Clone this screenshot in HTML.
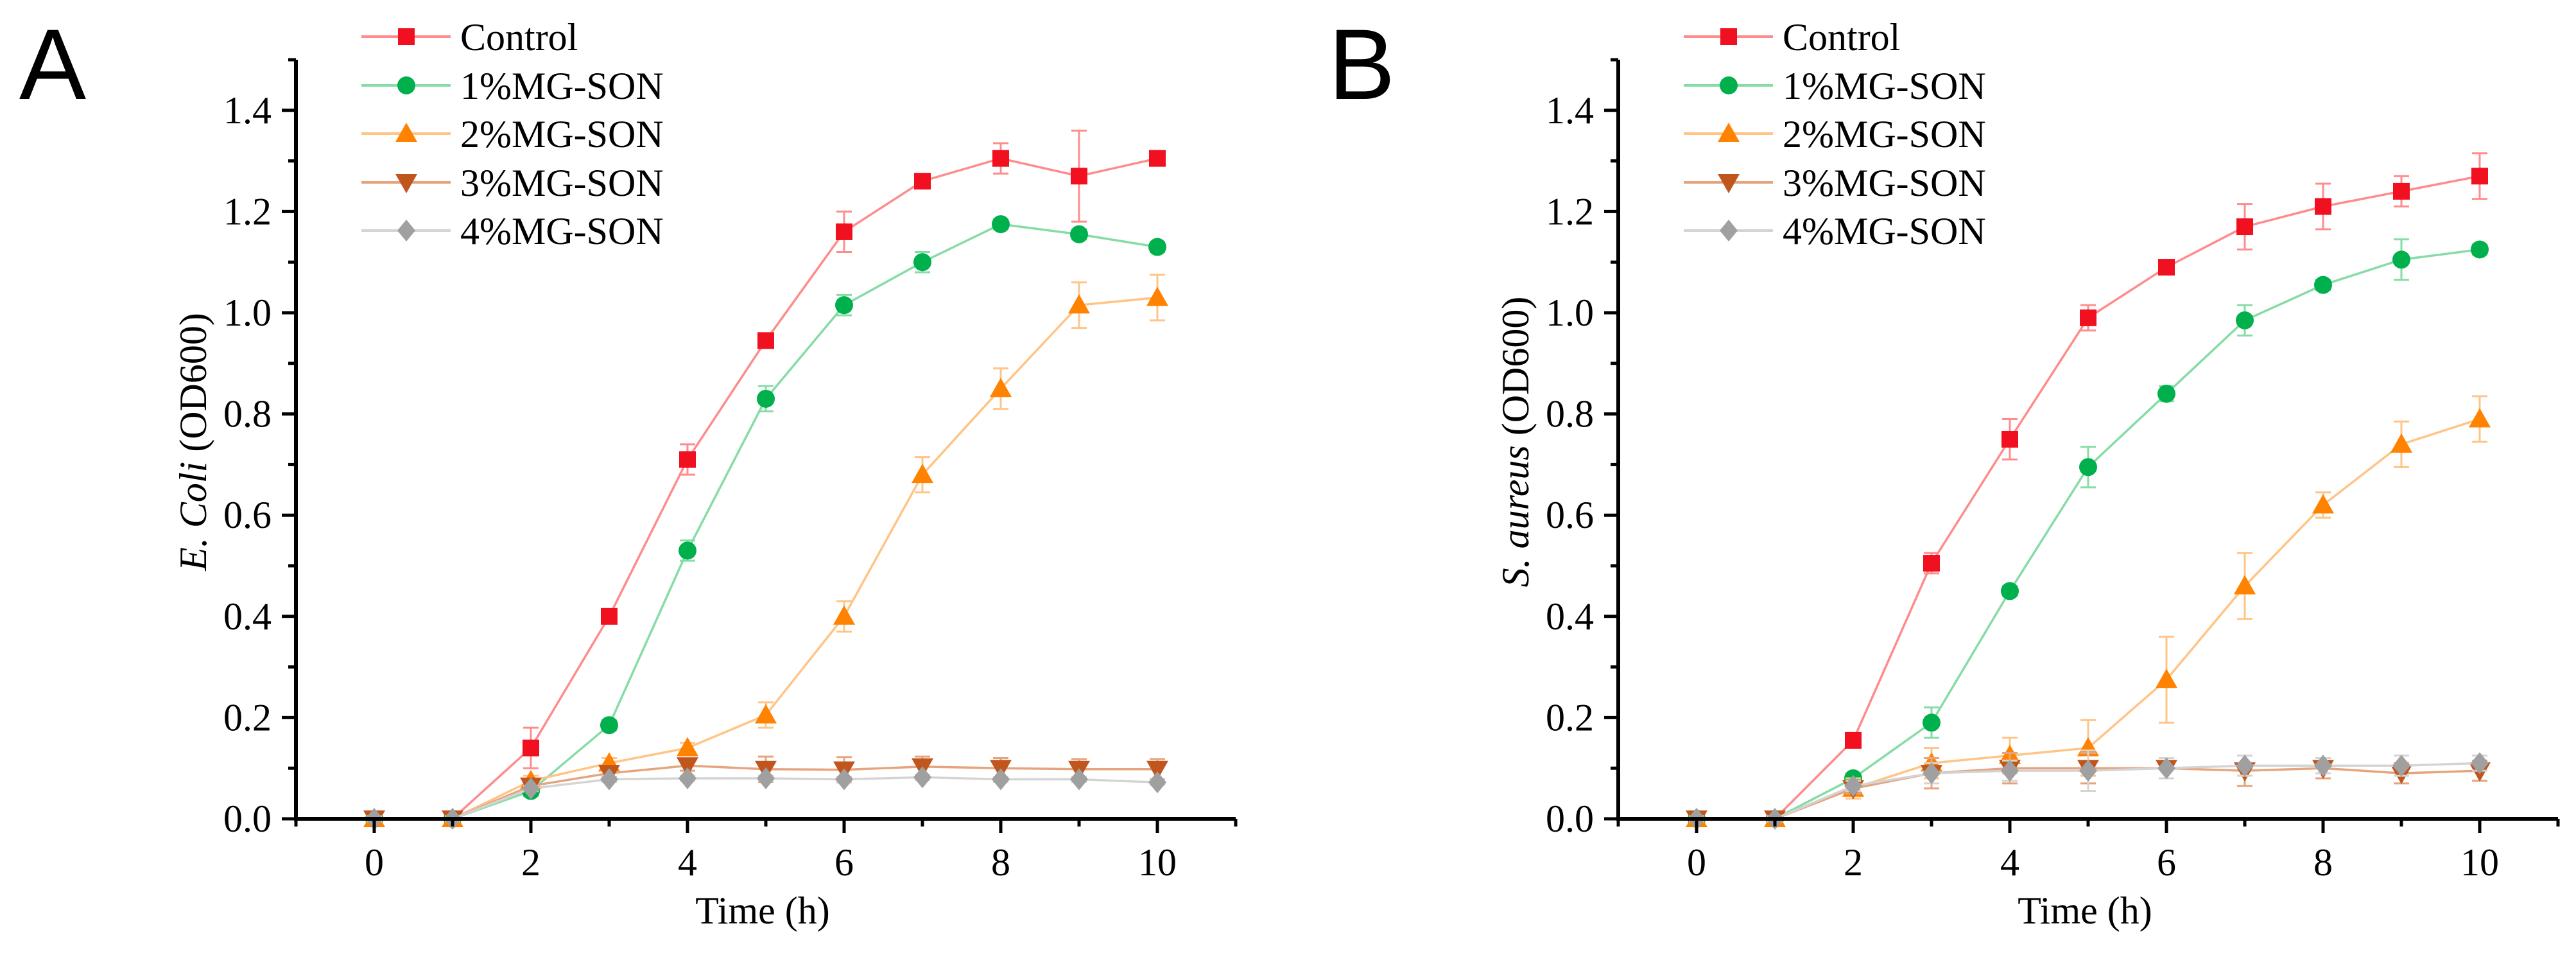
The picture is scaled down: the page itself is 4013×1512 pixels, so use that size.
<!DOCTYPE html>
<html><head><meta charset="utf-8"><style>
html,body{margin:0;padding:0;background:#fff;}
svg{display:block;font-family:"Liberation Serif",serif;}
</style></head><body>
<svg id="fig" width="4013" height="1512" viewBox="0 0 4013 1512" xmlns="http://www.w3.org/2000/svg"></svg>
<script>
const xs = [0,1,2,3,4,5,6,7,8,9,10];
const seriesNames = ["Control","1%MG-SON","2%MG-SON","3%MG-SON","4%MG-SON"];
const yTicks = [0,0.2,0.4,0.6,0.8,1.0,1.2,1.4];
const xTicks = [0,2,4,6,8,10];
// Panel A (E. coli)
const aControl = [0,0,0.14,0.40,0.71,0.945,1.16,1.26,1.305,1.27,1.305];
const aControlErr = [0.005,0.005,0.04,0.01,0.03,0.01,0.04,0.01,0.03,0.09,0.01];
const a1 = [0,0,0.055,0.185,0.53,0.83,1.015,1.10,1.175,1.155,1.13];
const a1Err = [0.005,0.005,0.01,0.01,0.02,0.025,0.02,0.02,0.01,0.01,0.01];
const a2 = [0,0,0.075,0.11,0.14,0.205,0.40,0.68,0.85,1.015,1.03];
const a2Err = [0.005,0.005,0.01,0.01,0.01,0.025,0.03,0.035,0.04,0.045,0.045];
const a3 = [0,0,0.065,0.09,0.105,0.098,0.097,0.103,0.10,0.098,0.098];
const a3Err = [0.005,0.005,0.01,0.01,0.01,0.025,0.025,0.02,0.02,0.02,0.02];
const a4 = [0,0,0.06,0.078,0.08,0.08,0.078,0.082,0.078,0.078,0.072];
const a4Err = [0.005,0.005,0.005,0.005,0.005,0.005,0.005,0.005,0.005,0.005,0.005];
// Panel B (S. aureus)
const bControl = [0,0,0.155,0.505,0.75,0.99,1.09,1.17,1.21,1.24,1.27];
const bControlErr = [0.005,0.005,0.01,0.02,0.04,0.025,0.01,0.045,0.045,0.03,0.045];
const b1 = [0,0,0.08,0.19,0.45,0.695,0.84,0.985,1.055,1.105,1.125];
const b1Err = [0.005,0.005,0.01,0.03,0.01,0.04,0.015,0.03,0.01,0.04,0.01];
const b2 = [0,0,0.06,0.11,0.125,0.14,0.275,0.46,0.62,0.74,0.79];
const b2Err = [0.005,0.005,0.02,0.03,0.035,0.055,0.085,0.065,0.025,0.045,0.045];
const b3 = [0,0,0.06,0.09,0.10,0.10,0.10,0.095,0.10,0.09,0.095];
const b3Err = [0.005,0.005,0.01,0.03,0.03,0.03,0.02,0.03,0.02,0.02,0.02];
const b4 = [0,0,0.065,0.09,0.095,0.095,0.10,0.105,0.105,0.105,0.11];
const b4Err = [0.005,0.005,0.01,0.02,0.02,0.04,0.02,0.02,0.015,0.02,0.015];

const NS="http://www.w3.org/2000/svg";
const svg=document.getElementById('fig');
function mk(tag,attrs,parent){const e=document.createElementNS(NS,tag);for(const k in attrs)e.setAttribute(k,attrs[k]);(parent||svg).appendChild(e);return e;}
const markerCol=["#f01020","#00b04c","#ff8200","#c0561e","#a0a0a0"];
const lineCol=["#ff8c8c","#86dca6","#ffc486","#e6a47e","#d4d4d4"];
const shapes=["square","circle","up","down","diamond"];

function marker(g,shape,cx,cy,col){
  let e;
  if(shape==="square"){e=mk('rect',{x:cx-13,y:cy-13,width:26,height:26,fill:col},g);}
  else if(shape==="circle"){e=mk('circle',{cx:cx,cy:cy,r:14,fill:col},g);}
  else if(shape==="up"){e=mk('polygon',{points:`${cx},${cy-17} ${cx+17},${cy+13} ${cx-17},${cy+13}`,fill:col},g);}
  else if(shape==="down"){e=mk('polygon',{points:`${cx},${cy+17} ${cx+17},${cy-13} ${cx-17},${cy-13}`,fill:col},g);}
  else {e=mk('polygon',{points:`${cx},${cy-17} ${cx+14},${cy} ${cx},${cy+17} ${cx-14},${cy}`,fill:col},g);}
  return e;
}

function panel(off,letter,ylabelItalic,data,errs){
  const X0=583+off, UX=122, Y0=1275, UY=788;
  const sx=v=>X0+v*UX, sy=v=>Y0-v*UY;
  const left=sx(-1), right=sx(11), top=sy(1.5);
  const g=mk('g',{});
  
  
  const L=mk('text',{x:30+off*0.99,y:154,'font-size':156,'font-family':'Liberation Sans, sans-serif',fill:'#000'},g);
  L.textContent=letter;
  
  
  for(let s=0;s<5;s++){
    const sg=mk('g',{},g);
    
    
    const vals=data[s], er=errs[s];
    const pts=xs.map((x,i)=>sx(x)+','+sy(vals[i])).join(' ');
    const pl=mk('polyline',{points:pts,fill:'none',stroke:lineCol[s],'stroke-width':3.5},sg);
    
    
    xs.forEach((x,i)=>{
      const cx=sx(x), y1=sy(vals[i]+er[i]), y2=sy(vals[i]-er[i]);
      const eb=mk('path',{d:`M${cx},${y1}V${y2}M${cx-12},${y1}H${cx+12}M${cx-12},${y2}H${cx+12}`,stroke:lineCol[s],'stroke-width':3,fill:'none'},sg);
      
      
    });
    xs.forEach((x,i)=>{
      const m=marker(sg,shapes[s],sx(x),sy(vals[i]),markerCol[s]);
      
      
    });
  }
  const ax=mk('path',{d:`M${left},${top}V${Y0}H${right}`,stroke:'#000','stroke-width':6,fill:'none'},g);
  
  
  for(let k=0;k<=15;k++){
    const v=k/10, y=sy(v), major=(k%2===0);
    const t=mk('line',{x1:left-(major?22:12),x2:left,y1:y,y2:y,stroke:'#000','stroke-width':5},g);
    
    
  }
  yTicks.forEach(v=>{
    const t=mk('text',{x:left-38,y:sy(v)+20,'font-size':60,'text-anchor':'end',fill:'#000'},g);
    t.textContent=v.toFixed(1);
    
    
  });
  for(let k=-1;k<=11;k++){
    const x=sx(k), major=(k>=0&&k<=10&&k%2===0);
    const t=mk('line',{x1:x,x2:x,y1:Y0,y2:Y0+(major?22:12),stroke:'#000','stroke-width':5},g);
    
    
  }
  xTicks.forEach(v=>{
    const t=mk('text',{x:sx(v),y:1363,'font-size':60,'text-anchor':'middle',fill:'#000'},g);
    t.textContent=v;
    
    
  });
  const xt=mk('text',{x:(left+right)/2-5,y:1438,'font-size':60,'text-anchor':'middle',fill:'#000'},g);
  xt.textContent='Time (h)';
  
  
  const yt=mk('text',{x:0,y:0,'font-size':60,'text-anchor':'middle',fill:'#000',transform:`translate(${left-140},${688}) rotate(-90)`},g);
  const it=mk('tspan',{'font-style':'italic'},yt); it.textContent=ylabelItalic;
  const rt=mk('tspan',{},yt); rt.textContent=' (OD600)';
  
  
  const rows=[57,133,208,284,359];
  for(let s=0;s<5;s++){
    const lg=mk('g',{},g);
    
    
    mk('line',{x1:563+off,x2:702+off,y1:rows[s],y2:rows[s],stroke:lineCol[s],'stroke-width':4},lg);
    marker(lg,shapes[s],633+off,rows[s],markerCol[s]);
    const t=mk('text',{x:717+off,y:rows[s]+21,'font-size':60,fill:'#000'},lg);
    t.textContent=seriesNames[s];
  }
}
panel(0,'A','E. Coli',[aControl,a1,a2,a3,a4],[aControlErr,a1Err,a2Err,a3Err,a4Err]);
panel(2060,'B','S. aureus',[bControl,b1,b2,b3,b4],[bControlErr,b1Err,b2Err,b3Err,b4Err]);
</script>
</body></html>
